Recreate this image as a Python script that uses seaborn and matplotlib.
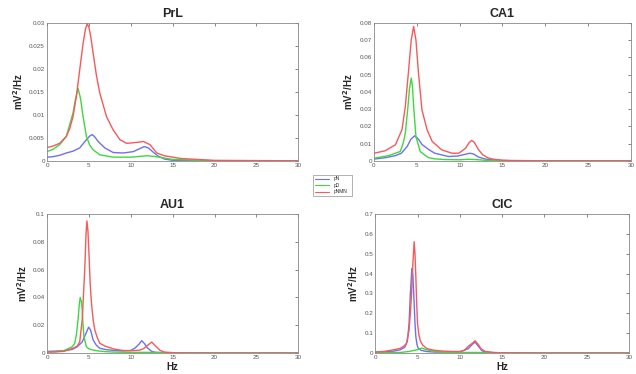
import numpy as np
import pandas as pd
import matplotlib
matplotlib.use("Agg")
import matplotlib.pyplot as plt
import seaborn as sns

# Series names and colours (legend order)
series = ["pN", "pD", "pNMN"]
colors = {"pN": "#6f6ff0", "pD": "#3ed83e", "pNMN": "#f45a5a"}

# ---- PrL ----
prl_pn_hz = [0, 0.7, 1.5, 2.3, 3.1, 3.9, 4.7, 5.1, 5.4, 5.7, 6.1, 6.9, 7.9, 9.1, 10.3, 11, 11.6, 12.1, 12.6,
             13.2, 14, 15, 16, 20, 30]
prl_pn = [0.0008, 0.0009, 0.0012, 0.0017, 0.0021, 0.0028, 0.0046, 0.0054, 0.0057, 0.0052, 0.0042, 0.0028,
          0.0018, 0.0017, 0.002, 0.0026, 0.0031, 0.0028, 0.002, 0.0011, 0.0004, 0.0001, 0.00005, 0, 0]
prl_pd_hz = [0, 0.7, 1.5, 2.3, 3.1, 3.4, 3.7, 4.0, 4.3, 4.7, 5.1, 5.5, 6.3, 7.9, 10, 12, 13, 15, 20, 30]
prl_pd = [0.002, 0.0025, 0.0035, 0.0053, 0.0104, 0.0135, 0.0158, 0.0135, 0.0096, 0.0053, 0.0034, 0.0024,
          0.0013, 0.0008, 0.0008, 0.0011, 0.0009, 0.0003, 0, 0]
prl_pnmn_hz = [0, 0.7, 1.5, 2.3, 2.7, 3.1, 3.5, 3.9, 4.3, 4.6, 4.8, 5.0, 5.2, 5.5, 5.9, 6.3, 7.1, 7.9, 8.7,
               9.5, 10.7, 11.5, 12.3, 13.1, 14, 15, 16, 18, 20, 30]
prl_pnmn = [0.0029, 0.0032, 0.0038, 0.0053, 0.007, 0.0096, 0.014, 0.0198, 0.0255, 0.0288, 0.0298, 0.029,
            0.0272, 0.0234, 0.0185, 0.0147, 0.0096, 0.0067, 0.0046, 0.0038, 0.004, 0.0042, 0.0035, 0.0017,
            0.0011, 0.0008, 0.0005, 0.0003, 0.0001, 0]

# ---- CA1 ----
ca1_pn_hz = [0, 1.3, 2.5, 3.2, 3.9, 4.3, 4.75, 5.2, 5.6, 6.4, 7.1, 8.7, 9.8, 10.5, 11.2, 11.6, 12.2, 13, 14,
             15, 20, 30]
ca1_pn = [0.001, 0.0018, 0.003, 0.0044, 0.0085, 0.0125, 0.0145, 0.0125, 0.0095, 0.0065, 0.0044, 0.0025,
          0.0028, 0.0036, 0.0044, 0.004, 0.0022, 0.001, 0.0004, 0.0001, 0, 0]
ca1_pd_hz = [0, 1.7, 3.07, 3.4, 3.66, 3.97, 4.15, 4.35, 4.5, 4.63, 4.9, 5.4, 6.3, 7, 8, 10, 11, 12, 13, 15,
             20, 30]
ca1_pd = [0.0015, 0.003, 0.0054, 0.01, 0.016, 0.0315, 0.042, 0.048, 0.043, 0.0315, 0.014, 0.0054, 0.002,
          0.0012, 0.0008, 0.0006, 0.0009, 0.0007, 0.0003, 0, 0, 0]
ca1_pnmn_hz = [0, 1.3, 2.5, 3.27, 3.66, 4.05, 4.35, 4.63, 4.9, 5.2, 5.6, 6.2, 6.8, 7.9, 9.1, 9.9, 10.7,
               11.1, 11.4, 11.7, 12.2, 12.7, 13.3, 14, 15, 16, 20, 30]
ca1_pnmn = [0.0044, 0.0058, 0.0093, 0.018, 0.0315, 0.0528, 0.07, 0.0779, 0.07, 0.0508, 0.0296, 0.018,
            0.0112, 0.0064, 0.0044, 0.0044, 0.0073, 0.0105, 0.0118, 0.0108, 0.0065, 0.0035, 0.0017, 0.0009,
            0.0004, 0.0002, 0, 0]

# ---- AU1 ----
au1_pn_hz = [0, 1, 2, 3, 3.6, 4.2, 4.6, 4.96, 5.2, 5.5, 5.9, 6.3, 7, 8, 9, 10, 10.5, 11, 11.3, 11.6, 12,
             12.5, 13, 14, 20, 30]
au1_pn = [0.0012, 0.0014, 0.0017, 0.0026, 0.0045, 0.008, 0.0135, 0.0186, 0.0165, 0.0094, 0.0055, 0.0034,
          0.0025, 0.0019, 0.0015, 0.0019, 0.0036, 0.0065, 0.0089, 0.007, 0.0036, 0.0012, 0.0005, 0.0002, 0, 0]
au1_pd_hz = [0, 1, 2, 3, 3.3, 3.5, 3.7, 3.85, 3.96, 4.1, 4.2, 4.3, 4.4, 4.7, 5, 5.5, 6, 7, 8, 10, 12, 15,
             20, 30]
au1_pd = [0.0007, 0.001, 0.0017, 0.0045, 0.007, 0.013, 0.024, 0.035, 0.040, 0.037, 0.031, 0.02, 0.0118,
          0.0046, 0.003, 0.0022, 0.0016, 0.001, 0.0007, 0.0005, 0.0005, 0.0002, 0, 0]
au1_pnmn_hz = [0, 1, 2, 3.1, 3.6, 3.9, 4.2, 4.5, 4.65, 4.76, 4.88, 5.0, 5.15, 5.3, 5.5, 5.7, 6.0, 6.3, 7,
               8, 9, 10, 11, 11.5, 12, 12.5, 13, 13.5, 14, 15, 16, 20, 30]
au1_pnmn = [0.0007, 0.0008, 0.0012, 0.0034, 0.005, 0.008, 0.024, 0.06, 0.085, 0.095, 0.088, 0.072, 0.05,
            0.036, 0.024, 0.0166, 0.011, 0.007, 0.0048, 0.0029, 0.0019, 0.0017, 0.002, 0.0031, 0.0055,
            0.0079, 0.0048, 0.0019, 0.0007, 0.0003, 0.0001, 0, 0]

# ---- CIC ----
cic_pn_hz = [0, 1, 2, 3, 3.5, 3.8, 4.0, 4.15, 4.33, 4.45, 4.57, 4.7, 4.8, 4.95, 5.1, 5.4, 6, 7, 8, 10, 11,
             11.5, 11.8, 12.2, 12.6, 13, 14, 20, 30]
cic_pn = [0.005, 0.006, 0.008, 0.017, 0.03, 0.06, 0.149, 0.3, 0.426, 0.39, 0.28, 0.15, 0.082, 0.04, 0.023,
          0.014, 0.008, 0.005, 0.005, 0.006, 0.022, 0.045, 0.055, 0.034, 0.012, 0.005, 0.002, 0, 0]
cic_pd_hz = [0, 3, 4, 5, 5.5, 6, 7, 8, 10, 12, 14, 20, 30]
cic_pd = [0.002, 0.003, 0.008, 0.017, 0.025, 0.017, 0.008, 0.004, 0.003, 0.003, 0.001, 0, 0]
cic_pnmn_hz = [0, 1, 2, 2.9, 3.4, 3.7, 4.0, 4.15, 4.3, 4.45, 4.6, 4.7, 4.8, 4.9, 5.0, 5.15, 5.3, 5.6, 6.1,
               6.5, 7, 8, 9, 10, 10.5, 11, 11.5, 11.8, 12.2, 12.5, 13, 14, 15, 20, 30]
cic_pnmn = [0.005, 0.008, 0.015, 0.023, 0.035, 0.049, 0.116, 0.2, 0.30, 0.45, 0.56, 0.5, 0.384, 0.25, 0.149,
            0.095, 0.065, 0.04, 0.023, 0.018, 0.014, 0.01, 0.008, 0.008, 0.013, 0.034, 0.05, 0.062, 0.042,
            0.022, 0.008, 0.003, 0.001, 0, 0]

panels = [
    ("PrL", [(prl_pn_hz, prl_pn), (prl_pd_hz, prl_pd), (prl_pnmn_hz, prl_pnmn)], 0.03, np.arange(0, 0.0301, 0.005),
     ["0", "0.005", "0.01", "0.015", "0.02", "0.025", "0.03"]),
    ("CA1", [(ca1_pn_hz, ca1_pn), (ca1_pd_hz, ca1_pd), (ca1_pnmn_hz, ca1_pnmn)], 0.08, np.arange(0, 0.0801, 0.01),
     ["0", "0.01", "0.02", "0.03", "0.04", "0.05", "0.06", "0.07", "0.08"]),
    ("AU1", [(au1_pn_hz, au1_pn), (au1_pd_hz, au1_pd), (au1_pnmn_hz, au1_pnmn)], 0.1, np.arange(0, 0.101, 0.02),
     ["0", "0.02", "0.04", "0.06", "0.08", "0.1"]),
    ("CIC", [(cic_pn_hz, cic_pn), (cic_pd_hz, cic_pd), (cic_pnmn_hz, cic_pnmn)], 0.7, np.arange(0, 0.701, 0.1),
     ["0", "0.1", "0.2", "0.3", "0.4", "0.5", "0.6", "0.7"]),
]

# axes rectangles in figure fractions (left, bottom, width, height)
rects = [
    [0.074, 0.570, 0.395, 0.369],
    [0.588, 0.570, 0.404, 0.369],
    [0.074, 0.056, 0.395, 0.372],
    [0.590, 0.056, 0.399, 0.372],
]

sns.set_style("white")
plt.rcParams['font.family'] = ['Liberation Sans', 'DejaVu Sans']

fig = plt.figure(figsize=(6.36, 3.74), dpi=100)

for i, (title, data, ymax, yticks, ylabels) in enumerate(panels):
    ax = fig.add_axes(rects[i])
    frames = []
    for name, (hz, vals) in zip(series, data):
        frames.append(pd.DataFrame({"Hz": hz, "psd": vals, "grupo": name}))
    df = pd.concat(frames, ignore_index=True)
    sns.lineplot(data=df, x="Hz", y="psd", hue="grupo", hue_order=series, palette=colors,
                 linewidth=1.0, legend=False, ax=ax, sort=True, estimator=None)
    ax.set_xlim(0, 30)
    ax.set_ylim(0, ymax)
    ax.set_xticks(np.arange(0, 31, 5))
    ax.set_xticklabels([str(v) for v in range(0, 31, 5)])
    ax.set_yticks(yticks)
    ax.set_yticklabels(ylabels)
    ax.tick_params(direction="in", length=2, width=0.5, labelsize=4.5, colors="#555555",
                   top=True, right=True, pad=1.5)
    for sp in ax.spines.values():
        sp.set_color("#888888")
        sp.set_linewidth(0.6)
    ax.set_title(title, fontsize=9, fontweight="bold", pad=4)
    ax.set_ylabel("mV$^\\mathbf{2}$/Hz", fontsize=7, fontweight="bold", labelpad=3)
    if i >= 2:
        ax.set_xlabel("Hz", fontsize=7, fontweight="bold", labelpad=1)
    else:
        ax.set_xlabel("")

handles = [plt.Line2D([], [], color=colors[s], linewidth=0.8) for s in series]
leg = fig.legend(handles, series, loc="lower left", bbox_to_anchor=(0.489, 0.470, 0.068, 0.062),
                 mode="expand", fontsize=3.5, frameon=True, handlelength=3, borderpad=0.3,
                 labelspacing=0.3, fancybox=False, edgecolor="#777777")
leg.get_frame().set_linewidth(0.5)

fig.savefig("out.png", dpi=100)
